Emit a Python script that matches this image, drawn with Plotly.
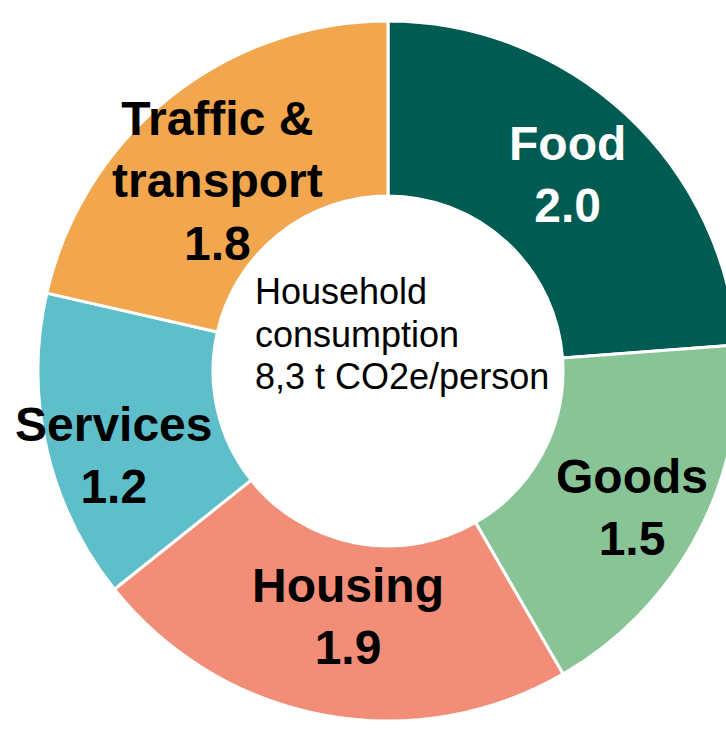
import math
import plotly.graph_objects as go

categories = ["Food", "Goods", "Housing", "Services", "Traffic &<br>transport"]
values = [2.0, 1.5, 1.9, 1.2, 1.8]
value_labels = ["2.0", "1.5", "1.9", "1.2", "1.8"]
center_lines = ["Household", "consumption", "8,3 t CO2e/person"]

# styles / layout
colors = ["#005B52", "#89C496", "#F28E78", "#5EBFCA", "#F2A64E"]
text_colors = ["white", "black", "black", "black", "black"]
label_shift = [(1, 4), (12, -14), (9, 12), (-18, -26), (-7, -15)]  # px nudges
FONT = "Arial, Liberation Sans, sans-serif"

W, H = 760, 760
cx, cy, R = 388, 371, 350
HOLE = 0.5

fig = go.Figure(go.Pie(
    labels=categories,
    values=values,
    textinfo="none",
    marker=dict(colors=colors, line=dict(color="white", width=3)),
    hole=HOLE,
    sort=False,
    direction="clockwise",
    rotation=0,
    showlegend=False,
    hoverinfo="skip",
    domain=dict(x=[(cx - R) / W, (cx + R) / W], y=[1 - (cy + R) / H, 1 - (cy - R) / H]),
))

annotations = []
total = sum(values)
cum = 0.0
r_lab = (HOLE + 1) / 2 * R
for cat, val, vl, tc, (dx, dy) in zip(categories, values, value_labels, text_colors, label_shift):
    mid = (cum + val / 2) / total * 2 * math.pi
    cum += val
    px = cx + r_lab * math.sin(mid)
    py = cy - r_lab * math.cos(mid)
    annotations.append(dict(
        x=px / W, y=1 - py / H, xref="paper", yref="paper",
        xanchor="center", yanchor="middle", xshift=dx, yshift=dy,
        text=f"<b>{cat}<br>{vl}</b>", showarrow=False, align="center",
        font=dict(family=FONT, size=48, color=tc),
    ))

for i, line in enumerate(center_lines):
    annotations.append(dict(
        x=253 / W, y=1 - cy / H, xref="paper", yref="paper",
        xanchor="left", yanchor="middle",
        yshift=37 + (1 - i) * 42.5,
        text=line, showarrow=False,
        font=dict(family=FONT, size=36, color="black"),
    ))

fig.update_layout(
    width=W, height=H,
    margin=dict(l=0, r=0, t=0, b=0),
    paper_bgcolor="white",
    plot_bgcolor="white",
    annotations=annotations,
)

fig.write_html("out.html", config={"displayModeBar": False},
               post_script="document.body.style.margin='0';document.body.style.overflow='hidden';")
